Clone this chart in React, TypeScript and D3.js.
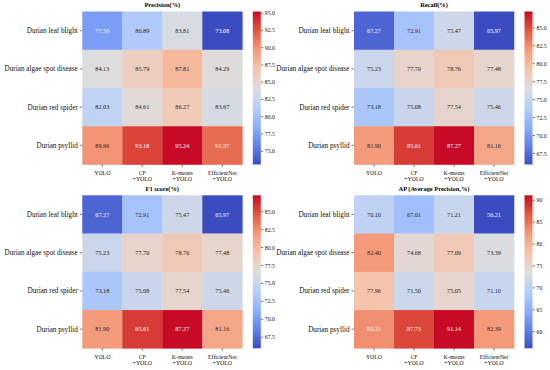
import * as d3 from "d3";

const diseases = ["Durian leaf blight", "Durian algae spot disease", "Durian red spider", "Durian psyllid"];
const models = [["YOLO"], ["CF", "+YOLO"], ["K-means", "+YOLO"], ["EfficientNet", "+YOLO"]];

const precision = [
  [77.5, 80.89, 83.81, 73.08],
  [84.13, 85.79, 87.81, 84.29],
  [82.03, 84.61, 86.27, 83.67],
  [89.96, 93.18, 95.24, 91.57],
];
const recall = [
  [67.27, 72.91, 75.47, 65.97],
  [75.23, 77.7, 78.76, 77.48],
  [73.18, 75.08, 77.54, 75.46],
  [81.9, 85.61, 87.27, 81.16],
];
const f1 = [
  [67.27, 72.91, 75.47, 65.97],
  [75.23, 77.7, 78.76, 77.48],
  [73.18, 75.08, 77.54, 75.46],
  [81.9, 85.61, 87.27, 81.16],
];
const ap = [
  [70.1, 67.01, 71.21, 56.21],
  [82.4, 74.68, 77.09, 73.39],
  [77.96, 71.5, 75.05, 71.1],
  [83.21, 87.73, 91.14, 82.39],
];

const precisionTicks = [75, 77.5, 80, 82.5, 85, 87.5, 90, 92.5, 95];
const recallTicks = [67.5, 70, 72.5, 75, 77.5, 80, 82.5, 85];
const apTicks = [60, 65, 70, 75, 80, 85, 90];

// coolwarm-like ramp, 9 samples (red end a touch brighter to match the reference)
const coolwarm = ["#3b4cc0", "#6282ea", "#8db0fe", "#b8d0f9", "#dddddd", "#f5c4ac", "#f49a7b", "#e0583f", "#c70a26"];
const cmap = d3
  .scaleLinear<string>()
  .domain(d3.range(9).map((i) => i / 8))
  .range(coolwarm)
  .interpolate(d3.interpolateRgb)
  .clamp(true);

const FONT = "'Liberation Serif', 'Times New Roman', serif";

function textColor(c: string) {
  const rgb = d3.rgb(c);
  const lin = (v: number) => {
    const s = v / 255;
    return s <= 0.03928 ? s / 12.92 : Math.pow((s + 0.055) / 1.055, 2.4);
  };
  const lum = 0.2126 * lin(rgb.r) + 0.7152 * lin(rgb.g) + 0.0722 * lin(rgb.b);
  return lum > 0.408 ? "#262626" : "#ffffff";
}

type HeatProps = {
  id: string;
  title: string;
  data: number[][];
  ticks: number[];
  fmt: string;
  left: number;
  top: number;
};

function Heatmap({ id, title, data, ticks, fmt, left, top }: HeatProps) {
  const w = 160;
  const h = 153;
  const all = data.flat();
  const vmin = d3.min(all) ?? 0;
  const vmax = d3.max(all) ?? 1;
  const norm = d3.scaleLinear().domain([vmin, vmax]).range([0, 1]);

  const x = d3.scaleBand<number>().domain(d3.range(models.length)).range([0, w]);
  const y = d3.scaleBand<number>().domain(d3.range(diseases.length)).range([0, h]);

  const cbX = w + 10.5;
  const cbW = 8;
  const cbY = d3.scaleLinear().domain([vmin, vmax]).range([h, 0]);
  const f = d3.format(fmt);
  const stops = d3.range(0, 1.0001, 1 / 32);

  return (
    <g transform={`translate(${left},${top})`} fontFamily={FONT}>
      <defs>
        <linearGradient id={id} x1="0" y1="1" x2="0" y2="0">
          {stops.map((s) => (
            <stop key={s} offset={s} stopColor={cmap(s)} />
          ))}
        </linearGradient>
      </defs>
      <text x={w / 2} y={-4.5} textAnchor="middle" fontSize={6.4} fontWeight="bold" fill="#000">
        {title}
      </text>
      {data.map((row, i) =>
        row.map((v, j) => {
          const c = cmap(norm(v));
          return (
            <g key={`${i}-${j}`}>
              <rect x={x(j)} y={y(i)} width={x.bandwidth() + 0.3} height={y.bandwidth() + 0.3} fill={c} />
              <text
                x={(x(j) ?? 0) + x.bandwidth() / 2}
                y={(y(i) ?? 0) + y.bandwidth() / 2}
                dy="0.35em"
                textAnchor="middle"
                fontSize={6.2}
                fill={textColor(c)}
              >
                {v.toFixed(2)}
              </text>
            </g>
          );
        })
      )}
      {diseases.map((d, i) => {
        const cy = (y(i) ?? 0) + y.bandwidth() / 2;
        return (
          <g key={d}>
            <line x1={-2.5} x2={0} y1={cy} y2={cy} stroke="#222" strokeWidth={0.6} />
            <text x={-4.5} y={cy} dy="0.35em" textAnchor="end" fontSize={7.2} fill="#111">
              {d}
            </text>
          </g>
        );
      })}
      {models.map((m, j) => {
        const cx = (x(j) ?? 0) + x.bandwidth() / 2;
        return (
          <g key={m.join()}>
            <line x1={cx} x2={cx} y1={h} y2={h + 2.5} stroke="#222" strokeWidth={0.6} />
            {m.map((line, k) => (
              <text key={line} x={cx} y={h + 10.5 + k * 6.2} textAnchor="middle" fontSize={5.8} fill="#111">
                {line}
              </text>
            ))}
          </g>
        );
      })}
      <rect x={cbX} y={0} width={cbW} height={h} fill={`url(#${id})`} />
      {ticks.map((t) => (
        <g key={t} transform={`translate(${cbX + cbW},${cbY(t)})`}>
          <line x1={0} x2={2.5} stroke="#222" strokeWidth={0.6} />
          <text x={4} dy="0.35em" fontSize={5.8} fill="#111">
            {f(t)}
          </text>
        </g>
      ))}
    </g>
  );
}

export default function App() {
  return (
    <svg
      width={550}
      height={370}
      style={{ position: "absolute", left: 0, top: 0, background: "#fff" }}
    >
      <rect width={550} height={370} fill="#fff" />
      <Heatmap id="g1" title="Precision(%)" data={precision} ticks={precisionTicks} fmt=".1f" left={82.3} top={11.5} />
      <Heatmap id="g2" title="Recall(%)" data={recall} ticks={recallTicks} fmt=".1f" left={354} top={11.5} />
      <Heatmap id="g3" title="F1 score(%)" data={f1} ticks={recallTicks} fmt=".1f" left={82.3} top={195.3} />
      <Heatmap id="g4" title="AP (Average Precision,%)" data={ap} ticks={apTicks} fmt="d" left={354} top={195.3} />
    </svg>
  );
}
